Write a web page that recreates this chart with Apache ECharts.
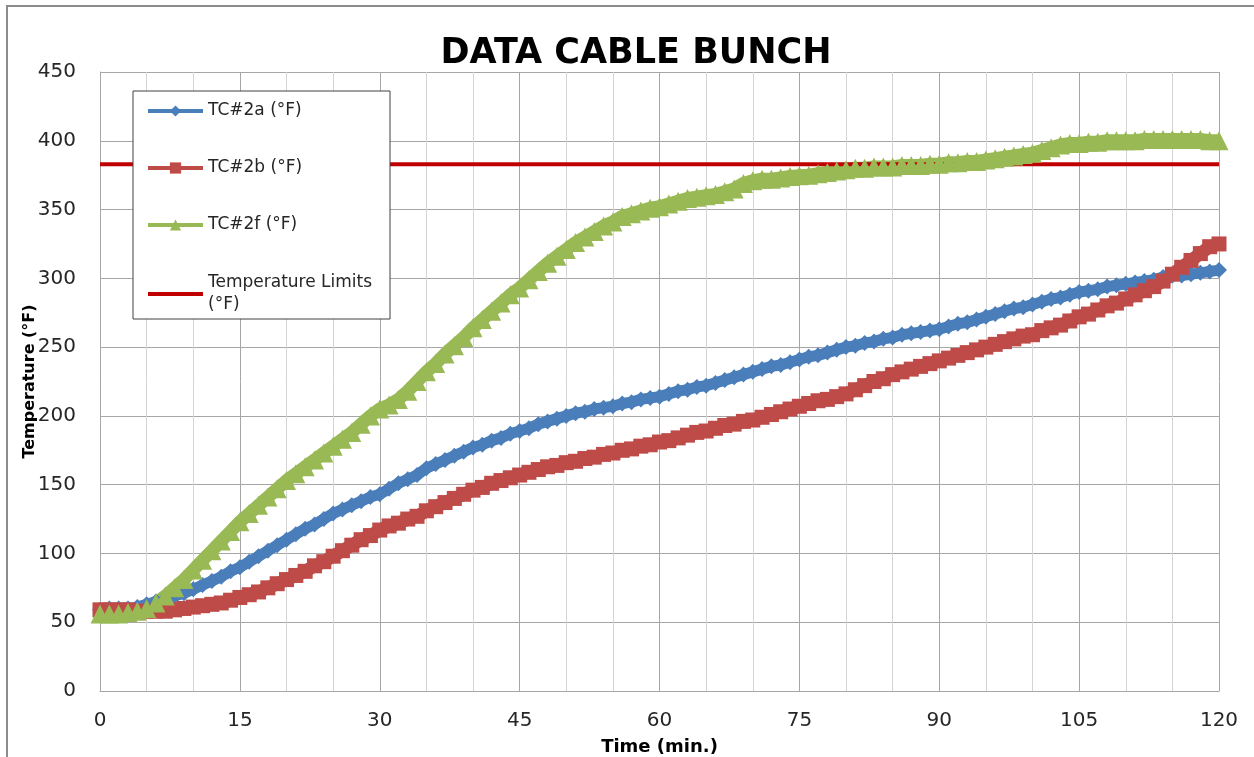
<!DOCTYPE html>
<html>
<head>
<meta charset="utf-8">
<script src="https://cdn.jsdelivr.net/npm/echarts@6/dist/echarts.min.js"></script>
<style>
html,body{margin:0;padding:0;background:#fff;}
#chart{width:1254px;height:757px;}
</style>
</head>
<body>
<div id="chart"></div>
<script>
// ---- data ----
const times = [0,1,2,3,4,5,6,7,8,9,10,11,12,13,14,15,16,17,18,19,20,21,22,23,24,25,26,27,28,29,30,31,32,33,34,35,36,37,38,39,40,41,42,43,44,45,46,47,48,49,50,51,52,53,54,55,56,57,58,59,60,61,62,63,64,65,66,67,68,69,70,71,72,73,74,75,76,77,78,79,80,81,82,83,84,85,86,87,88,89,90,91,92,93,94,95,96,97,98,99,100,101,102,103,104,105,106,107,108,109,110,111,112,113,114,115,116,117,118,119,120];

const tc2a = [59,60,60,60,61, 63,65,67,69,71, 74,77,80,83,87, 90,94,98,102,106, 110,114,118,121,125, 129,132,135,138,141,
  143,147,151,154,157, 162,165,168,171,174, 177,179,182,184,187, 189,191,194,196,198, 200,202,203,205,206, 207,209,210,212,213,
  214,216,218,219,221, 222,224,226,228,230, 232,234,236,237,239, 241,243,244,246,248, 250,251,253,254,256, 257,259,260,261,262,
  263,265,267,268,270, 272,274,276,278,279, 281,283,285,286,288, 290,291,292,294,295, 296,297,298,299,301, 302,302,303,304,305, 306];

const tc2b = [59,59,59,59,58, 58,58,58,59,60, 61,62,63,64,66, 68,70,72,75,78, 81,84,87,91,94, 98,102,106,110,113,
  117,120,122,125,127, 131,134,137,140,143, 146,148,151,153,155, 157,159,161,163,164, 166,167,169,170,172, 173,175,176,178,179,
  181,182,184,186,188, 189,191,193,194,196, 197,199,201,203,205, 207,209,211,212,214, 216,219,222,225,227, 230,232,234,236,238,
  240,242,244,246,248, 250,252,254,256,258, 259,262,264,266,269, 272,274,277,280,282, 285,288,291,294,298, 303,308,313,318,323, 325];

const tc2f = [56,56,56,57,58, 60,64,69,75,81, 88,95,102,109,116, 123,129,135,141,147, 153,158,163,168,173, 178,183,188,194,200,
  205,208,212,218,225, 232,238,245,251,257, 264,270,276,282,288, 293,299,305,311,316, 321,326,330,334,338, 341,345,347,349,351,
  352,354,356,358,359, 360,361,363,365,369, 371,372,372,373,374, 374.5,375,376,377,378, 379,380,380,381,381, 381,382,382,382,383,
  383,384,384,385,385, 386,387,388,389,390, 391,393,395,397,398, 398,399,399,400,400, 400,400,401,401,401, 401,401,401,401,400, 400];

const limitTimes = [0, 120];
const limitValues = [383, 383];

const seriesNames = ['TC#2a (°F)', 'TC#2b (°F)', 'TC#2f (°F)', 'Temperature Limits (°F)'];
const xTicks = [0, 15, 30, 45, 60, 75, 90, 105, 120];
const yTicks = [0, 50, 100, 150, 200, 250, 300, 350, 400, 450];

const FONT = 'DejaVu Sans';
const zip = (xs, ys) => xs.map((x, i) => [x, ys[i]]);

const chart = echarts.init(document.getElementById('chart'), null, {renderer: 'canvas'});

function dataSeries(name, values, color, symbol, symSize, lw) {
  return {
    name: name,
    type: 'line',
    data: zip(times, values),
    symbol: symbol,
    symbolSize: symSize,
    showSymbol: true,
    showAllSymbol: true,
    itemStyle: {color: color, borderWidth: 0},
    lineStyle: {color: color, width: lw},
    emphasis: {disabled: true},
    animation: false
  };
}

const option = {
  backgroundColor: '#ffffff',
  animation: false,
  title: {
    text: 'DATA CABLE BUNCH',
    left: 631,
    textAlign: 'center',
    top: 31,
    textStyle: {fontFamily: FONT, fontWeight: 'bold', fontSize: 35, color: '#000'}
  },
  grid: {left: 100, right: 35, top: 72, bottom: 66, containLabel: false, outerBoundsMode: 'none'},
  legend: {
    orient: 'vertical',
    left: 133,
    top: 91,
    padding: [10, 12, 3, 13],
    itemGap: 37,
    itemWidth: 55,
    itemHeight: 14,
    backgroundColor: '#ffffff',
    borderColor: '#404040',
    borderWidth: 1,
    data: [
      seriesNames[0],
      seriesNames[1],
      seriesNames[2],
      {
        name: seriesNames[3],
        itemStyle: {color: 'rgba(0,0,0,0)', borderWidth: 0},
        textStyle: {fontFamily: FONT, fontSize: 17, lineHeight: 22, color: '#262626', width: 170}
      }
    ],
    lineStyle: {width: 4},
    formatter: function (name) {
      return name === seriesNames[3] ? 'Temperature Limits\n(°F)' : name;
    },
    textStyle: {fontFamily: FONT, fontSize: 17, lineHeight: 20, color: '#262626', width: 170}
  },
  graphic: [{
    type: 'rect',
    shape: {x: 7, y: 6, width: 1300, height: 800},
    style: {fill: 'none', stroke: '#8c8c8c', lineWidth: 2},
    silent: true,
    z: 100
  }],
  xAxis: {
    type: 'value',
    min: xTicks[0],
    max: xTicks[xTicks.length - 1],
    interval: 15,
    name: 'Time (min.)',
    nameLocation: 'middle',
    nameGap: 47,
    nameMoveOverlap: false,
    nameTextStyle: {fontFamily: FONT, fontWeight: 'bold', fontSize: 18, color: '#000'},
    axisLine: {show: true, lineStyle: {color: '#a6a6a6', width: 1}},
    axisTick: {show: false},
    minorTick: {show: false, splitNumber: 3},
    axisLabel: {fontFamily: FONT, fontSize: 20, color: '#262626', margin: 20},
    splitLine: {show: true, lineStyle: {color: '#a6a6a6', width: 1}},
    minorSplitLine: {show: true, lineStyle: {color: '#d4d4d4', width: 1}}
  },
  yAxis: {
    type: 'value',
    min: yTicks[0],
    max: yTicks[yTicks.length - 1],
    interval: 50,
    name: 'Temperature (°F)',
    nameLocation: 'middle',
    nameGap: 62,
    nameMoveOverlap: false,
    nameTextStyle: {fontFamily: FONT, fontWeight: 'bold', fontSize: 16, color: '#000'},
    axisLine: {show: true, lineStyle: {color: '#a6a6a6', width: 1}},
    axisTick: {show: false},
    axisLabel: {fontFamily: FONT, fontSize: 20, color: '#262626', margin: 24},
    splitLine: {show: true, lineStyle: {color: '#a6a6a6', width: 1}}
  },
  series: [
    dataSeries(seriesNames[0], tc2a, '#4A7EBB', 'diamond', 16, 11),
    dataSeries(seriesNames[1], tc2b, '#BE4B48', 'rect', 15, 13),
    dataSeries(seriesNames[2], tc2f, '#98B954', 'triangle', 19, 13),
    {
      name: seriesNames[3],
      type: 'line',
      data: zip(limitTimes, limitValues),
      symbol: 'none',
      showSymbol: false,
      lineStyle: {color: '#C00000', width: 4},
      itemStyle: {color: '#C00000'},
      emphasis: {disabled: true},
      animation: false
    }
  ]
};

chart.setOption(option);
</script>
</body>
</html>
